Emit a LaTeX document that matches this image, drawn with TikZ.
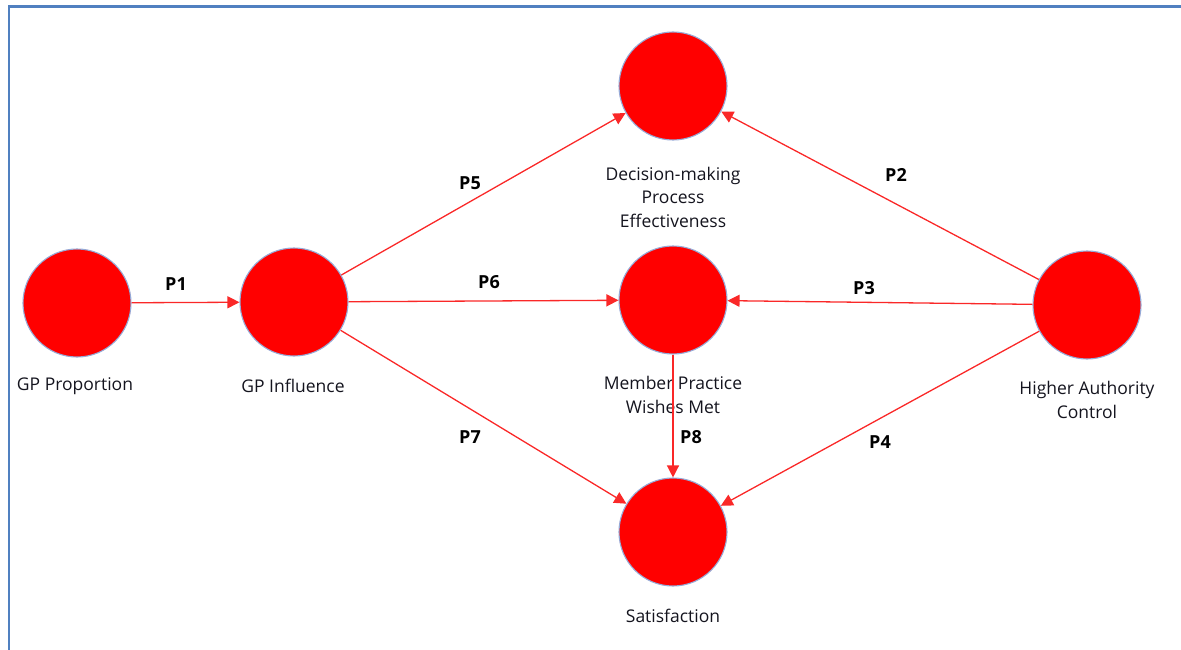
\documentclass[tikz,border=0pt]{standalone}
\usepackage{fontspec}
\setmainfont{Open Sans}
\usepackage{tikz}
\usetikzlibrary{arrows.meta,positioning}
\definecolor{mdred}{RGB}{255,0,0}
\definecolor{mdedge}{RGB}{150,170,215}
\definecolor{mdline}{RGB}{250,40,40}
\definecolor{mdframe}{RGB}{80,128,192}
\definecolor{mdink}{RGB}{20,20,30}
\tikzset{
  construct/.style={
    circle, fill=mdred, draw=mdedge, line width=1.1pt,
    minimum size=108pt, inner sep=0pt
  },
  cname/.style={
    align=center, font=\fontsize{17.5}{23.5}\selectfont, text=mdink, inner sep=0pt
  },
  plab/.style={font=\fontsize{18}{20}\selectfont\bfseries, text=black, inner sep=0pt},
  arr/.style={-{Triangle[length=12pt,width=12pt]}, draw=mdline, line width=1.3pt},
  frame/.style={draw=mdframe, line width=2.6pt}
}
\begin{document}
\begin{tikzpicture}[x=1pt, y=-1pt]
  \useasboundingbox (0,0) rectangle (1181,650);
  \draw[frame] (9,650) -- (9,6.5) -- (1181,6.5);
  % constructs
  \node[construct] (gpp) at (77,303) {};
  \node[construct] (gpi) at (294,302) {};
  \node[construct] (dec) at (673,86) {};
  \node[construct] (mem) at (673,300) {};
  \node[construct] (sat) at (673,532) {};
  \node[construct] (hac) at (1087,305) {};
  % names under the circles
  \node[cname] (gppT) at (75,386) {GP Proportion};
  \node[cname] (gpiT) at (293,386) {GP Influence};
  \node[cname] (decT) at (673,197) {Decision-making\\Process\\Effectiveness};
  \node[cname] (memT) at (673,395) {Member Practice\\Wishes Met};
  \node[cname] (hacT) at (1087,400) {Higher Authority\\Control};
  \node[cname] (satT) at (673,616) {Satisfaction};
  % paths
  \foreach \p/\q in {gpp/gpi,gpi/dec,gpi/mem,gpi/sat,hac/dec,hac/mem,hac/sat,mem/sat}
    \draw[arr] (\p) -- (\q);
  % path labels
  \node[plab] (p1) at (176,284) {P1};
  \node[plab] (p2) at (896,175) {P2};
  \node[plab] (p3) at (864,288) {P3};
  \node[plab] (p4) at (880,442) {P4};
  \node[plab] (p5) at (470,183) {P5};
  \node[plab] (p6) at (489,282) {P6};
  \node[plab] (p7) at (470,437) {P7};
  \node[plab] (p8) at (691,437) {P8};
\end{tikzpicture}
\end{document}
